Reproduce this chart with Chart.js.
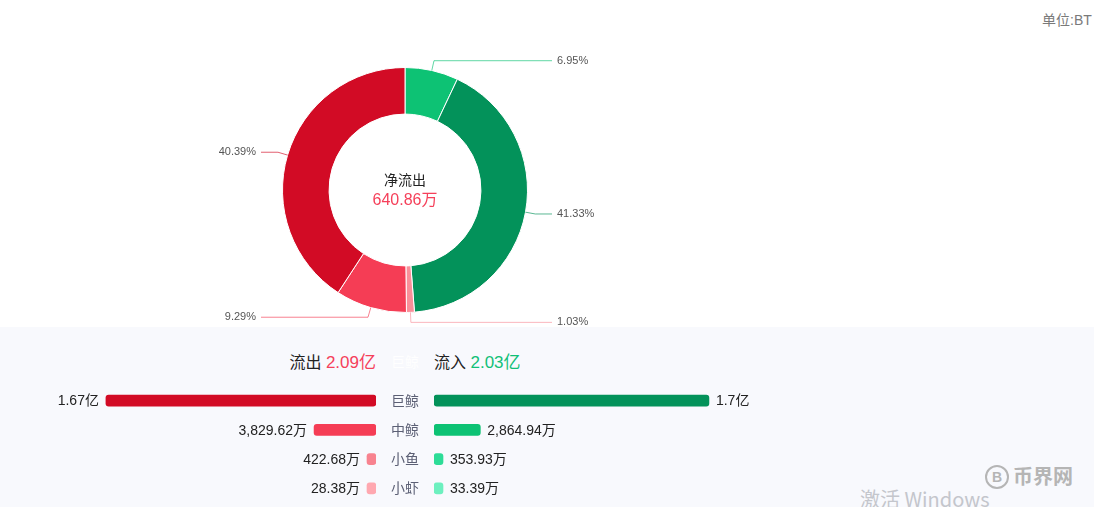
<!DOCTYPE html>
<html>
<head>
<meta charset="utf-8">
<script src="https://cdn.jsdelivr.net/npm/chart.js@4/dist/chart.umd.min.js"></script>
<style>
  html,body{margin:0;padding:0;background:#fff;}
  body{width:1094px;height:507px;position:relative;overflow:hidden;font-family:"Liberation Sans","Noto Sans CJK SC",sans-serif;}
  .abs{position:absolute;white-space:nowrap;}
  #panel{position:absolute;left:0;top:327px;width:1094px;height:180px;background:#f8f9fd;}
  canvas{position:absolute;}
  .cat{position:absolute;width:60px;left:375px;text-align:center;font-size:14px;color:#5c6075;line-height:20px;}
</style>
</head>
<body>
<div id="panel"></div>
<div class="abs" id="unit" style="left:1042px;top:11px;font-size:14px;color:#7a7a7a;line-height:18px;"></div>
<canvas id="donut" width="1094" height="327" style="left:0;top:0;"></canvas>
<div class="abs" id="centerTitle" style="left:345px;width:120px;text-align:center;top:171px;font-size:14px;color:#222;line-height:18px;"></div>
<div class="abs" id="centerValue" style="left:345px;width:120px;text-align:center;top:190px;font-size:16px;color:#f5405a;line-height:20px;"></div>

<div class="abs" id="hdrLeft" style="right:718px;top:352px;font-size:16px;line-height:21px;color:#222;"></div>
<div class="abs" id="hdrMid" style="left:375px;width:60px;text-align:center;top:352px;font-size:14px;line-height:21px;color:#fff;"></div>
<div class="abs" id="hdrRight" style="left:434px;top:352px;font-size:16px;line-height:21px;color:#222;"></div>

<canvas id="barsOut" width="376" height="117" style="left:0;top:386px;"></canvas>
<canvas id="barsIn" width="376" height="117" style="left:434px;top:386px;"></canvas>
<div id="cats"></div>

<div class="abs" style="left:860px;top:487px;font-size:20px;color:#c4c6cc;line-height:24px;font-family:'Noto Sans CJK SC',sans-serif;">激活 Windows</div>
<div class="abs" style="left:985px;top:465px;width:20px;height:20px;border:2px solid #b5b5b5;border-radius:50%;color:#b5b5b5;font-size:14px;font-weight:bold;text-align:center;line-height:20px;">B</div>
<div class="abs" style="left:1013px;top:463px;font-size:20px;font-weight:bold;color:#b5b5b5;line-height:26px;font-family:'Noto Sans CJK SC',sans-serif;">币界网</div>

<script>
// ---------- data ----------
const unitText = '单位:BT';
const netTitle = '净流出';
const netValue = '640.86万';
const sliceLabels = ['中鲸流入', '巨鲸流入', '小鱼流出', '中鲸流出', '巨鲸流出'];
const slicePct = [6.95, 41.33, 1.03, 9.29, 40.39];
const sliceColors = ['#0dc274', '#03925a', '#f98f99', '#f53d55', '#d20b25'];

const outTitle = '流出';
const outTotal = '2.09亿';
const inTitle = '流入';
const inTotal = '2.03亿';

const categories = ['巨鲸', '中鲸', '小鱼', '小虾'];
const outflow = [16700, 3829.62, 422.68, 28.38];   // 万
const inflow = [17000, 2864.94, 353.93, 33.39];    // 万
const outflowLabels = ['1.67亿', '3,829.62万', '422.68万', '28.38万'];
const inflowLabels = ['1.7亿', '2,864.94万', '353.93万', '33.39万'];
const outColors = ['#d20b25', '#f53d55', '#f8838f', '#ffa8b0'];
const inColors = ['#03925a', '#0dc274', '#2ddc97', '#6df0bf'];

// ---------- text ----------
document.getElementById('unit').textContent = unitText;
document.getElementById('centerTitle').textContent = netTitle;
document.getElementById('centerValue').textContent = netValue;
document.getElementById('hdrLeft').innerHTML = outTitle + ' <span style="color:#f5405a;font-size:17px">' + outTotal + '</span>';
document.getElementById('hdrMid').textContent = categories[0];
document.getElementById('hdrRight').innerHTML = inTitle + ' <span style="color:#10c077;font-size:17px">' + inTotal + '</span>';
const catsDiv = document.getElementById('cats');
categories.forEach((c, i) => {
  const d = document.createElement('div');
  d.className = 'cat';
  d.style.top = (391 + i * 29) + 'px';
  d.textContent = c;
  catsDiv.appendChild(d);
});

function withAlpha(hex, a) {
  const n = parseInt(hex.slice(1), 16);
  return 'rgba(' + (n >> 16) + ',' + ((n >> 8) & 255) + ',' + (n & 255) + ',' + a + ')';
}

// ---------- donut ----------
const leaderPlugin = {
  id: 'leaders',
  afterDatasetsDraw(chart) {
    const ctx = chart.ctx;
    const meta = chart.getDatasetMeta(0);
    ctx.save();
    ctx.font = '11px "Liberation Sans", sans-serif';
    ctx.textBaseline = 'middle';
    meta.data.forEach((arc, i) => {
      const p = arc.getProps(['x', 'y', 'startAngle', 'endAngle', 'outerRadius'], true);
      const mid = (p.startAngle + p.endAngle) / 2;
      const r0 = p.outerRadius;
      const sx = p.x + Math.cos(mid) * r0, sy = p.y + Math.sin(mid) * r0;
      const ex = p.x + Math.cos(mid) * (r0 + 10), ey = p.y + Math.sin(mid) * (r0 + 10);
      const right = Math.cos(mid) >= 0;
      const hx = right ? p.x + r0 + 24.5 : p.x - r0 - 21.5;
      ctx.strokeStyle = withAlpha(sliceColors[i], 0.65);
      ctx.lineWidth = 1;
      ctx.beginPath();
      ctx.moveTo(sx, sy);
      ctx.lineTo(ex, ey);
      ctx.lineTo(hx, ey);
      ctx.stroke();
      ctx.fillStyle = '#555';
      ctx.textAlign = right ? 'left' : 'right';
      ctx.fillText(slicePct[i].toFixed(2) + '%', right ? hx + 5 : hx - 5, ey);
    });
    ctx.restore();
  }
};

new Chart(document.getElementById('donut'), {
  type: 'doughnut',
  data: {
    labels: sliceLabels,
    datasets: [{
      data: slicePct,
      backgroundColor: sliceColors,
      borderColor: '#ffffff',
      borderWidth: 1,
      hoverOffset: 0
    }]
  },
  options: {
    responsive: false,
    animation: false,
    cutout: '62%',
    layout: { padding: { left: 282, right: 566, top: 67, bottom: 14 } },
    plugins: { legend: { display: false }, tooltip: { enabled: false } }
  },
  plugins: [leaderPlugin]
});

// ---------- bars ----------
function valueLabelPlugin(labels, leftSide) {
  return {
    id: 'valueLabels',
    afterDatasetsDraw(chart) {
      const ctx = chart.ctx;
      const meta = chart.getDatasetMeta(0);
      ctx.save();
      ctx.font = '14px "Liberation Sans", "Noto Sans CJK SC", sans-serif';
      ctx.fillStyle = '#222';
      ctx.textBaseline = 'middle';
      meta.data.forEach((bar, i) => {
        const p = bar.getProps(['x', 'y', 'base'], true);
        const end = leftSide ? Math.min(p.x, p.base) : Math.max(p.x, p.base);
        ctx.textAlign = leftSide ? 'right' : 'left';
        ctx.fillText(labels[i], leftSide ? end - 7 : end + 7, p.y + 1);
      });
      ctx.restore();
    }
  };
}

function barChart(id, values, colors, labels, leftSide) {
  return new Chart(document.getElementById(id), {
    type: 'bar',
    data: {
      labels: categories,
      datasets: [{
        data: values,
        backgroundColor: colors,
        barThickness: 11,
        borderRadius: 3,
        borderSkipped: false,
        minBarLength: 9
      }]
    },
    options: {
      indexAxis: 'y',
      responsive: false,
      animation: false,
      layout: { padding: 0 },
      scales: {
        x: { display: false, min: 0, max: 23250, reverse: leftSide },
        y: { display: false }
      },
      plugins: { legend: { display: false }, tooltip: { enabled: false } }
    },
    plugins: [valueLabelPlugin(labels, leftSide)]
  });
}

barChart('barsOut', outflow, outColors, outflowLabels, true);
barChart('barsIn', inflow, inColors, inflowLabels, false);
</script>
</body>
</html>
